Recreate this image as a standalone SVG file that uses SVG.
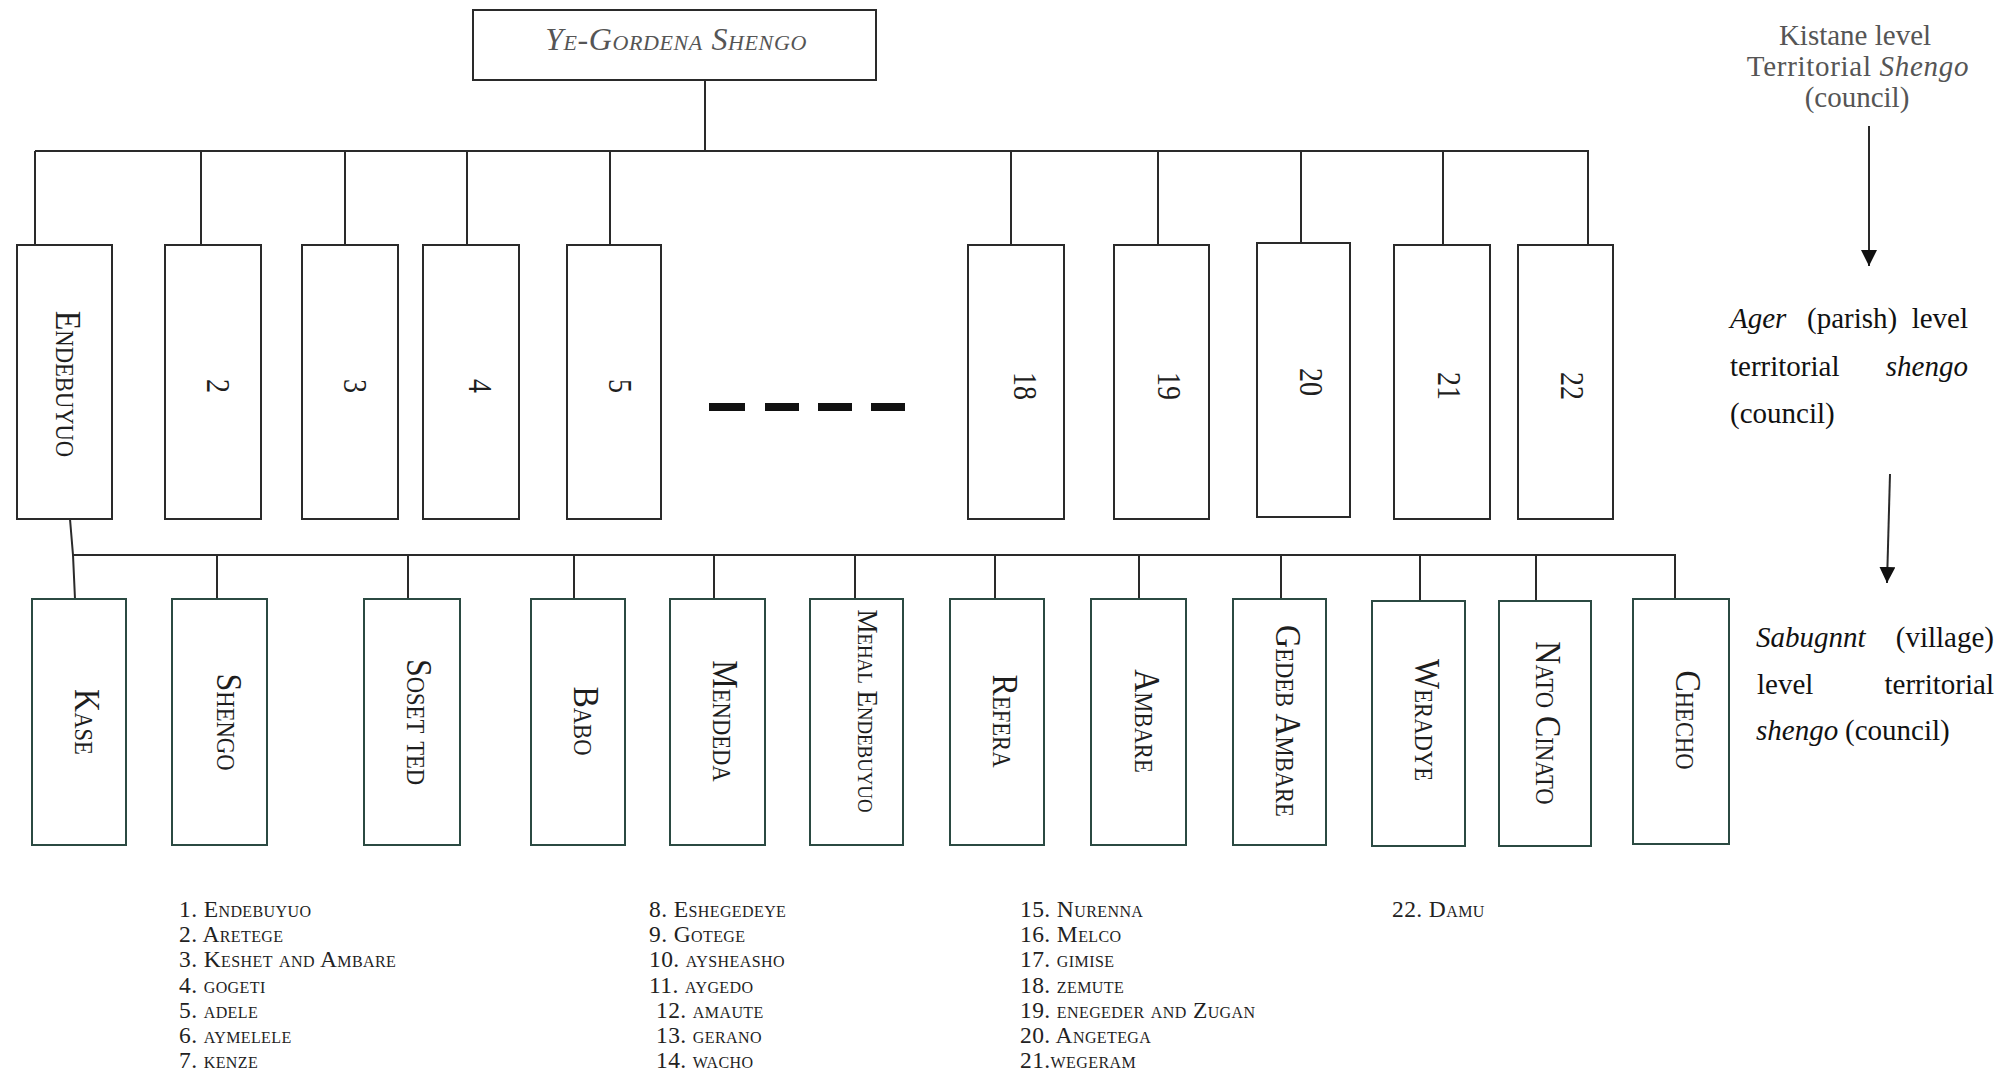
<svg xmlns="http://www.w3.org/2000/svg" width="2001" height="1075" viewBox="0 0 2001 1075">
<style>
text{font-family:"Liberation Serif","Times New Roman",serif;}
.bg{fill:#ffffff;}
.box{fill:#ffffff;stroke:#2a2a2a;stroke-width:2;}
.vbox{fill:#ffffff;stroke:#2b4a42;stroke-width:2;}
.wire{fill:none;stroke:#2a2a2a;stroke-width:2;}
.lbl{font-size:32px;font-variant:small-caps;fill:#1e1e1e;text-anchor:middle;}
.num{font-size:28px;fill:#1e1e1e;text-anchor:middle;}
.title{font-size:32px;font-style:italic;font-variant:small-caps;fill:#555555;text-anchor:middle;letter-spacing:0.6px;}
.side1{font-size:29px;fill:#555555;text-anchor:middle;}
.side{font-size:29px;fill:#111111;}
.it{font-style:italic;}
.leg{font-size:23.5px;font-variant:small-caps;fill:#222222;letter-spacing:0.4px;}
.dash{fill:#111111;}
</style>
<defs>
<marker id="ah" markerUnits="userSpaceOnUse" markerWidth="16" markerHeight="16" refX="16" refY="8" orient="auto">
<path d="M0,0 L16,8 L0,16 Z" fill="#111111"/>
</marker>
</defs>
<rect class="bg" x="0" y="0" width="2001" height="1075"/>

<g id="connectors">
<line class="wire" x1="705" y1="80" x2="705" y2="151"/>
<line class="wire" x1="35" y1="151" x2="1589" y2="151"/>
<line class="wire" x1="35" y1="151" x2="35" y2="245"/>
<line class="wire" x1="201" y1="151" x2="201" y2="245"/>
<line class="wire" x1="345" y1="151" x2="345" y2="245"/>
<line class="wire" x1="467" y1="151" x2="467" y2="245"/>
<line class="wire" x1="610" y1="151" x2="610" y2="245"/>
<line class="wire" x1="1011" y1="151" x2="1011" y2="245"/>
<line class="wire" x1="1158" y1="151" x2="1158" y2="245"/>
<line class="wire" x1="1301" y1="151" x2="1301" y2="243"/>
<line class="wire" x1="1443" y1="151" x2="1443" y2="245"/>
<line class="wire" x1="1588" y1="151" x2="1588" y2="245"/>
<path class="wire" d="M70,519 L73,555 L75,599"/>
<line class="wire" x1="72" y1="555" x2="1676" y2="555"/>
<line class="wire" x1="217" y1="555" x2="217" y2="599"/>
<line class="wire" x1="408" y1="555" x2="408" y2="599"/>
<line class="wire" x1="574" y1="555" x2="574" y2="599"/>
<line class="wire" x1="714" y1="555" x2="714" y2="599"/>
<line class="wire" x1="855" y1="555" x2="855" y2="599"/>
<line class="wire" x1="995" y1="555" x2="995" y2="599"/>
<line class="wire" x1="1139" y1="555" x2="1139" y2="599"/>
<line class="wire" x1="1281" y1="555" x2="1281" y2="599"/>
<line class="wire" x1="1420" y1="555" x2="1420" y2="601"/>
<line class="wire" x1="1536" y1="555" x2="1536" y2="601"/>
<line class="wire" x1="1675" y1="555" x2="1675" y2="599"/>
</g>

<g id="ye-gordena-shengo">
<rect class="box" x="473" y="10" width="403" height="70"/>
<text class="title" x="676" y="50">Ye-Gordena Shengo</text>
</g>

<g id="ager-1">
<rect class="box" x="17" y="245" width="95" height="274"/>
<text class="lbl" transform="translate(56,384) rotate(90) scale(1,1.12)">Endebuyuo</text>
</g>
<g id="ager-2">
<rect class="box" x="165" y="245" width="96" height="274"/>
<text class="num" transform="translate(207,386) rotate(90) scale(1,1.22)">2</text>
</g>
<g id="ager-3">
<rect class="box" x="302" y="245" width="96" height="274"/>
<text class="num" transform="translate(344,386) rotate(90) scale(1,1.22)">3</text>
</g>
<g id="ager-4">
<rect class="box" x="423" y="245" width="96" height="274"/>
<text class="num" transform="translate(469,386) rotate(90) scale(1,1.22)">4</text>
</g>
<g id="ager-5">
<rect class="box" x="567" y="245" width="94" height="274"/>
<text class="num" transform="translate(609,386) rotate(90) scale(1,1.22)">5</text>
</g>
<g id="ellipsis">
<rect class="dash" x="709" y="403" width="36" height="8"/>
<rect class="dash" x="765" y="403" width="34" height="8"/>
<rect class="dash" x="818" y="403" width="34" height="8"/>
<rect class="dash" x="871" y="403" width="34" height="8"/>
</g>
<g id="ager-18">
<rect class="box" x="968" y="245" width="96" height="274"/>
<text class="num" transform="translate(1014,386) rotate(90) scale(1,1.22)">18</text>
</g>
<g id="ager-19">
<rect class="box" x="1114" y="245" width="95" height="274"/>
<text class="num" transform="translate(1158,386) rotate(90) scale(1,1.22)">19</text>
</g>
<g id="ager-20">
<rect class="box" x="1257" y="243" width="93" height="274"/>
<text class="num" transform="translate(1300,382) rotate(90) scale(1,1.22)">20</text>
</g>
<g id="ager-21">
<rect class="box" x="1394" y="245" width="96" height="274"/>
<text class="num" transform="translate(1438,386) rotate(90) scale(1,1.22)">21</text>
</g>
<g id="ager-22">
<rect class="box" x="1518" y="245" width="95" height="274"/>
<text class="num" transform="translate(1561,386) rotate(90) scale(1,1.22)">22</text>
</g>

<g id="kase">
<rect class="vbox" x="32" y="599" width="94" height="246"/>
<text class="lbl" transform="translate(75,722) rotate(90) scale(1,1.12)">Kase</text>
</g>
<g id="shengo">
<rect class="vbox" x="172" y="599" width="95" height="246"/>
<text class="lbl" transform="translate(217,722) rotate(90) scale(1,1.12)">Shengo</text>
</g>
<g id="soset-ted">
<rect class="vbox" x="364" y="599" width="96" height="246"/>
<text class="lbl" transform="translate(407,722) rotate(90) scale(1,1.12)">Soset ted</text>
</g>
<g id="babo">
<rect class="vbox" x="531" y="599" width="94" height="246"/>
<text class="lbl" transform="translate(574,721) rotate(90) scale(1,1.12)">Babo</text>
</g>
<g id="mendeda">
<rect class="vbox" x="670" y="599" width="95" height="246"/>
<text class="lbl" transform="translate(713,721) rotate(90) scale(1,1.12)">Mendeda</text>
</g>
<g id="mehal-endebuyuo">
<rect class="vbox" x="810" y="599" width="93" height="246"/>
<text class="lbl" style="font-size:27px" transform="translate(858,711) rotate(90) scale(1,1.12)">Mehal Endebuyuo</text>
</g>
<g id="refera">
<rect class="vbox" x="950" y="599" width="94" height="246"/>
<text class="lbl" transform="translate(993,721) rotate(90) scale(1,1.12)">Refera</text>
</g>
<g id="ambare">
<rect class="vbox" x="1091" y="599" width="95" height="246"/>
<text class="lbl" transform="translate(1135,721) rotate(90) scale(1,1.12)">Ambare</text>
</g>
<g id="gedeb-ambare">
<rect class="vbox" x="1233" y="599" width="93" height="246"/>
<text class="lbl" transform="translate(1276,721) rotate(90) scale(1,1.12)">Gedeb Ambare</text>
</g>
<g id="weradye">
<rect class="vbox" x="1372" y="601" width="93" height="245"/>
<text class="lbl" transform="translate(1415,720) rotate(90) scale(1,1.12)">Weradye</text>
</g>
<g id="nato-cinato">
<rect class="vbox" x="1499" y="601" width="92" height="245"/>
<text class="lbl" transform="translate(1536,723) rotate(90) scale(1,1.12)">Nato Cinato</text>
</g>
<g id="checho">
<rect class="vbox" x="1633" y="599" width="96" height="245"/>
<text class="lbl" transform="translate(1676,720) rotate(90) scale(1,1.12)">Checho</text>
</g>

<g id="level-labels">
<text class="side1" x="1855" y="45">Kistane level</text>
<text class="side1" x="1858" y="76" letter-spacing="0.7">Territorial <tspan class="it">Shengo</tspan></text>
<text class="side1" x="1857" y="107">(council)</text>

<text class="side it" x="1730" y="328">Ager</text>
<text class="side" x="1807" y="328">(parish)</text>
<text class="side" x="1968" y="328" text-anchor="end">level</text>
<text class="side" x="1730" y="376">territorial</text>
<text class="side it" x="1968" y="376" text-anchor="end">shengo</text>
<text class="side" x="1730" y="423">(council)</text>

<text class="side it" x="1756" y="647">Sabugnnt</text>
<text class="side" x="1994" y="647" text-anchor="end">(village)</text>
<text class="side" x="1757" y="694">level</text>
<text class="side" x="1994" y="694" text-anchor="end">territorial</text>
<text class="side it" x="1756" y="740">shengo</text>
<text class="side" x="1845" y="740">(council)</text>
</g>

<g id="level-arrows">
<line class="wire" x1="1869" y1="126" x2="1869" y2="266" marker-end="url(#ah)"/>
<line class="wire" x1="1890" y1="474" x2="1887" y2="583" marker-end="url(#ah)"/>
</g>

<g id="legend">
<text class="leg" x="179" y="917">1. Endebuyuo</text>
<text class="leg" x="179" y="942.2">2. Aretege</text>
<text class="leg" x="179" y="967.4">3. Keshet and Ambare</text>
<text class="leg" x="179" y="992.6">4. gogeti</text>
<text class="leg" x="179" y="1017.8">5. adele</text>
<text class="leg" x="179" y="1043">6. aymelele</text>
<text class="leg" x="179" y="1068.2">7. kenze</text>

<text class="leg" x="649" y="917">8. Eshegedeye</text>
<text class="leg" x="649" y="942.2">9. Gotege</text>
<text class="leg" x="649" y="967.4">10. aysheasho</text>
<text class="leg" x="649" y="992.6">11. aygedo</text>
<text class="leg" x="656" y="1017.8">12. amaute</text>
<text class="leg" x="656" y="1043">13. gerano</text>
<text class="leg" x="656" y="1068.2">14. wacho</text>

<text class="leg" x="1020" y="917">15. Nurenna</text>
<text class="leg" x="1020" y="942.2">16. Melco</text>
<text class="leg" x="1020" y="967.4">17. gimise</text>
<text class="leg" x="1020" y="992.6">18. zemute</text>
<text class="leg" x="1020" y="1017.8">19. enegeder and Zugan</text>
<text class="leg" x="1020" y="1043">20. Angetega</text>
<text class="leg" x="1020" y="1068.2">21.wegeram</text>

<text class="leg" x="1392" y="917">22. Damu</text>
</g>
</svg>
